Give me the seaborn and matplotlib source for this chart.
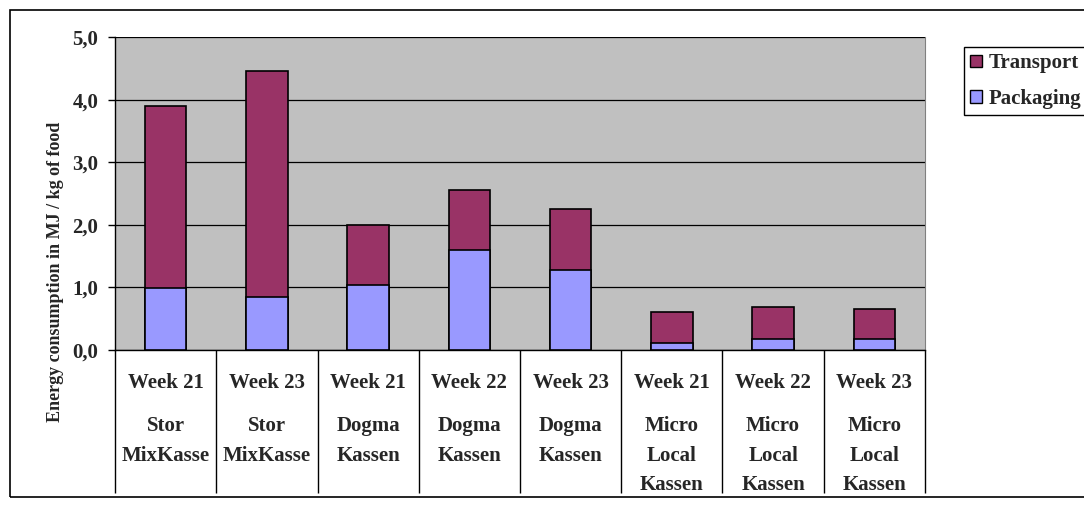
import numpy as np
import matplotlib
matplotlib.use("Agg")
import matplotlib.pyplot as plt
import pandas as pd
import seaborn as sns
from matplotlib.patches import Patch, Rectangle

# =========================
# DATA
# =========================
weeks = ["Week 21", "Week 23", "Week 21", "Week 22", "Week 23",
         "Week 21", "Week 22", "Week 23"]
boxes = ["Stor\nMixKasse", "Stor\nMixKasse", "Dogma\nKassen", "Dogma\nKassen",
         "Dogma\nKassen", "Micro\nLocal\nKassen", "Micro\nLocal\nKassen",
         "Micro\nLocal\nKassen"]
packaging = [0.99, 0.84, 1.04, 1.59, 1.27, 0.11, 0.17, 0.17]
transport = [2.90, 3.62, 0.96, 0.97, 0.98, 0.50, 0.51, 0.49]
yticks = [0, 1, 2, 3, 4, 5]
ytick_labels = ["0,0", "1,0", "2,0", "3,0", "4,0", "5,0"]

TRANSPORT_C = "#993366"
PACKAGING_C = "#9999FF"
BG = "#C0C0C0"

df = pd.DataFrame({
    "key": [f"{w}|{b}" for w, b in zip(weeks, boxes)],
    "packaging": packaging,
    "transport": transport,
})
df["total"] = df["packaging"] + df["transport"]

# =========================
# STYLE
# =========================
sns.set_style("white")
plt.rcParams["font.family"] = ["Liberation Serif", "DejaVu Serif"]
plt.rcParams["font.weight"] = "bold"

fig = plt.figure(figsize=(10.84, 5.08), dpi=100)
W, H = 1084, 508
ax = fig.add_axes([115 / W, 1 - 350 / H, 810 / W, 313 / H])
ax.set_facecolor(BG)

# =========================
# STACKED BARS
# =========================
sns.barplot(data=df, x="key", y="total", color=TRANSPORT_C, saturation=1,
            edgecolor="black", linewidth=1.2, width=0.41, ax=ax, zorder=3)
sns.barplot(data=df, x="key", y="packaging", color=PACKAGING_C, saturation=1,
            edgecolor="black", linewidth=1.2, width=0.41, ax=ax, zorder=4)

ax.set_xlim(-0.5, len(df) - 0.5)
ax.set_ylim(0, 5)
ax.set_yticks(yticks)
ax.set_yticklabels(ytick_labels, fontsize=15, fontweight="bold")
ax.yaxis.grid(True, color="black", linewidth=0.9)
ax.set_axisbelow(True)
ax.tick_params(axis="y", direction="out", length=5, width=1, color="black", pad=7, left=True)
ax.tick_params(axis="x", length=0, labelbottom=False)
ax.set_xlabel("")

ax.spines["top"].set_visible(False)
ax.spines["right"].set_color("#808080")
ax.spines["left"].set_color("black")
ax.spines["bottom"].set_color("black")
ax.spines["left"].set_linewidth(1)
ax.spines["bottom"].set_linewidth(1)

ax.set_ylabel("Energy consumption in MJ / kg of food", fontsize=13, fontweight="bold")
ax.yaxis.set_label_coords((55 - 115) / 810, (350 - 272) / 313)
ax.yaxis.label.set_verticalalignment("center")

# =========================
# CATEGORY TABLE
# =========================
xt = ax.get_xaxis_transform()
ax.vlines(np.arange(-0.5, len(df)), 0, -(493 - 350) / 313, transform=xt,
          clip_on=False, color="black", linewidth=1)
for i, (w, b) in enumerate(zip(weeks, boxes)):
    ax.text(i, -(383 - 350) / 313, w, transform=xt, ha="center", va="center",
            fontsize=15, fontweight="bold")
    ax.text(i, -(416 - 350) / 313, b, transform=xt, ha="center", va="top",
            fontsize=15, fontweight="bold", linespacing=1.65)

# =========================
# LEGEND + FRAME
# =========================
handles = [Patch(facecolor=TRANSPORT_C, edgecolor="black", label="Transport"),
           Patch(facecolor=PACKAGING_C, edgecolor="black", label="Packaging")]
leg = fig.legend(handles=handles, loc="upper left",
                 bbox_to_anchor=(964 / W, 1 - 47 / H), frameon=True,
                 fancybox=False, edgecolor="black", framealpha=1,
                 borderaxespad=0, handlelength=0.55, handleheight=0.55,
                 handletextpad=0.35, borderpad=0.3, labelspacing=0.75,
                 prop={"size": 15, "weight": "bold"})
leg.get_frame().set_linewidth(1)

fig.add_artist(Rectangle((10 / W, 11 / H), 1.2, 487 / H, transform=fig.transFigure,
                         fill=False, edgecolor="black", linewidth=1.2))

plt.savefig("out.png", dpi=100)
